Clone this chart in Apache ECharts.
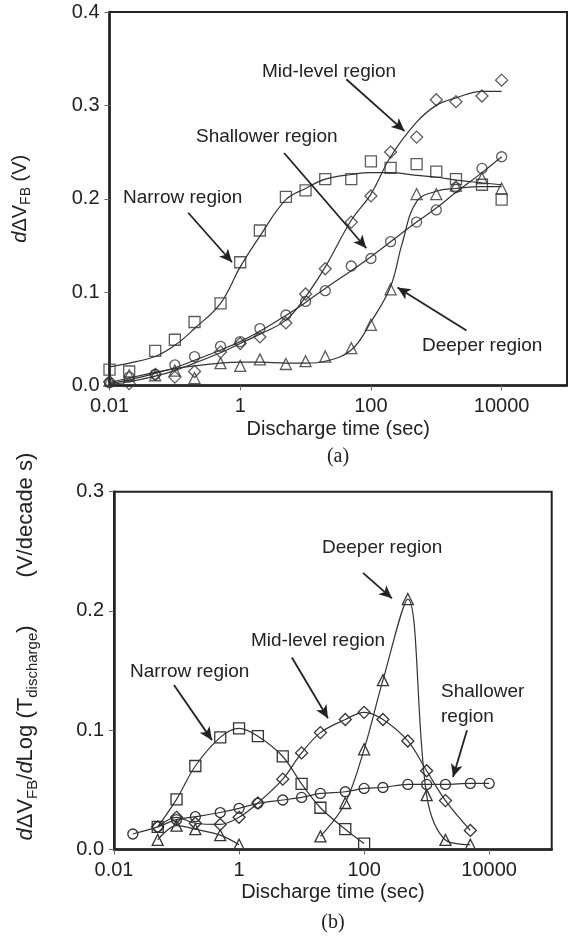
<!DOCTYPE html>
<html>
<head>
<meta charset="utf-8">
<script src="https://cdn.jsdelivr.net/npm/echarts@6/dist/echarts.min.js"></script>
<style>
    html, body { margin: 0; padding: 0; background: #fff; }
    #chart { width: 568px; height: 937px; }
</style>
</head>
<body>
<div id="chart"></div>
<script>
// (a) shift vs discharge time
var timeA = [0.01, 0.02, 0.05, 0.1, 0.2, 0.5, 1, 2, 5, 10, 20, 50, 100, 200, 500, 1000, 2000, 5000, 10000]
var narrowA = [0.017, 0.015, 0.037, 0.049, 0.068, 0.088, 0.132, 0.166, 0.202, 0.209, 0.221, 0.221, 0.240, 0.233, 0.237, 0.229, 0.221, 0.215, 0.199]
var midA = [0.004, 0.002, 0.012, 0.009, 0.015, 0.036, 0.045, 0.052, 0.067, 0.098, 0.125, 0.175, 0.203, 0.250, 0.266, 0.306, 0.304, 0.310, 0.327]
var shallowA = [0.003, 0.009, 0.012, 0.022, 0.031, 0.042, 0.047, 0.061, 0.0755, 0.090, 0.1015, 0.128, 0.136, 0.154, 0.175, 0.188, 0.212, 0.2325, 0.245]
var deepA = [0.005, 0.011, 0.011, 0.016, 0.008, 0.024, 0.021, 0.028, 0.023, 0.026, 0.031, 0.040, 0.065, 0.103, 0.205, 0.205, 0.214, 0.222, 0.211]

// (a) fitted curves
var narrowFitA = [0.020, 0.024, 0.031, 0.043, 0.061, 0.088, 0.127, 0.160, 0.199, 0.211, 0.221, 0.226, 0.228, 0.228, 0.225, 0.223, 0.220, 0.217, 0.215]
var midFitA = [0.001, 0.004, 0.010, 0.016, 0.024, 0.035, 0.045, 0.055, 0.070, 0.095, 0.127, 0.177, 0.205, 0.245, 0.282, 0.300, 0.308, 0.315, 0.315]
var shallowFitA = [0.002, 0.006, 0.013, 0.019, 0.027, 0.038, 0.047, 0.058, 0.075, 0.089, 0.104, 0.123, 0.138, 0.154, 0.175, 0.190, 0.207, 0.228, 0.245]
var deepFitTimeA = [0.01, 0.02, 0.05, 0.1, 0.2, 0.5, 1, 2, 5, 10, 20, 50, 100, 200, 300, 500, 1000, 2000, 5000, 10000]
var deepFitA = [0.003, 0.008, 0.014, 0.018, 0.021, 0.024, 0.025, 0.025, 0.024, 0.024, 0.026, 0.038, 0.068, 0.106, 0.152, 0.197, 0.208, 0.211, 0.213, 0.213]

// (b) derivative per decade
var narrowTimeB = [0.05, 0.1, 0.2, 0.5, 1, 2, 5, 10, 20, 50, 100]
var narrowB = [0.019, 0.042, 0.070, 0.094, 0.1015, 0.095, 0.078, 0.055, 0.035, 0.017, 0.005]
var shallowTimeB = [0.02, 0.05, 0.1, 0.2, 0.5, 1, 2, 5, 10, 20, 50, 100, 200, 500, 1000, 2000, 5000, 10000]
var shallowB = [0.013, 0.019, 0.025, 0.0275, 0.031, 0.0345, 0.0387, 0.0415, 0.0437, 0.047, 0.0484, 0.0512, 0.052, 0.0546, 0.0546, 0.0546, 0.0554, 0.0554]
var midTimeB = [0.05, 0.1, 0.2, 0.5, 1, 2, 5, 10, 20, 50, 100, 200, 500, 1000, 2000, 5000]
var midB = [0.019, 0.027, 0.022, 0.021, 0.027, 0.039, 0.059, 0.081, 0.098, 0.109, 0.115, 0.109, 0.091, 0.066, 0.041, 0.016]
var deepTimeB = [0.05, 0.1, 0.2, 0.5, 1, 5, 20, 50, 100, 200, 500, 1000, 2000, 5000]
var deepB = [0.008, 0.020, 0.017, 0.012, 0.004, '-', 0.011, 0.039, 0.084, 0.142, 0.210, 0.0456, 0.008, 0.004]

var xTicks = [0.01, 1, 100, 10000]

var FONT = '"Liberation Sans", Arial, sans-serif'
var INK = '#222'

function pairs (xs, ys) {
    return xs.map(function (x, i) { return [x, ys[i]] })
}

function makeX (idx, gap) {
    return {
        type: 'log',
        logBase: 10,
        gridIndex: idx,
        min: 0.01,
        max: 100000,
        axisLine: {show: true, onZero: false, lineStyle: {color: INK, width: 2.5}},
        axisTick: {show: true, length: 5, customValues: xTicks, lineStyle: {color: '#666', width: 1}},
        axisLabel: {
            customValues: xTicks,
            formatter: function (v) { return String(+(+v).toPrecision(6)) },
            color: INK, fontSize: 20, fontFamily: FONT, margin: 11
        },
        splitLine: {show: false},
        minorTick: {show: false},
        name: 'Discharge time (sec)',
        nameLocation: 'middle',
        nameGap: gap,
        nameTextStyle: {color: INK, fontSize: 20, fontFamily: FONT}
    }
}

function richSet (big, small, gapWidth) {
    return {
        i: {fontSize: big, fontFamily: FONT, fontStyle: 'italic', color: INK, lineHeight: big + 6},
        n: {fontSize: big, fontFamily: FONT, color: INK, lineHeight: big + 6},
        s: {fontSize: small, fontFamily: FONT, color: INK, lineHeight: small, verticalAlign: 'bottom'},
        gap: {width: gapWidth, fontSize: big, lineHeight: big + 6}
    }
}

function makeY (idx, max, name, gap, rich, pad) {
    return {
        type: 'value',
        gridIndex: idx,
        min: 0,
        max: max,
        interval: 0.1,
        axisLine: {show: true, lineStyle: {color: INK, width: 2.5}},
        axisTick: {show: true, length: 5, lineStyle: {color: '#666', width: 1}},
        axisLabel: {
            formatter: function (v) { return v.toFixed(1) },
            color: INK, fontSize: 20, fontFamily: FONT, margin: 10
        },
        splitLine: {show: false},
        name: name,
        nameLocation: 'middle',
        nameGap: gap,
        nameTextStyle: {rich: rich, padding: pad}
    }
}

var hollow = {color: 'rgba(0,0,0,0)', borderColor: '#333', borderWidth: 1.3}
var curve = {color: '#333', width: 1.2}

function dots (idx, xs, ys, symbol, size) {
    return {
        type: 'scatter', xAxisIndex: idx, yAxisIndex: idx,
        symbol: symbol, symbolSize: size,
        itemStyle: hollow,
        data: pairs(xs, ys),
        z: 3
    }
}

function fit (idx, xs, ys, arrows) {
    var s = {
        type: 'line', xAxisIndex: idx, yAxisIndex: idx,
        smooth: 0.4, showSymbol: false,
        lineStyle: curve, itemStyle: {color: '#333'},
        data: pairs(xs, ys),
        z: 2
    }
    if (arrows) {
        s.markLine = {
            silent: true,
            animation: false,
            symbol: ['none', 'arrow'],
            symbolSize: [9, 13],
            label: {show: false},
            lineStyle: {color: INK, width: 1.8, type: 'solid'},
            data: arrows.map(function (a) { return [{coord: a[0]}, {coord: a[1]}] })
        }
    }
    return s
}

function linked (idx, xs, ys, symbol, size, arrows) {
    var s = fit(idx, xs, ys, arrows)
    s.showSymbol = true
    s.symbol = symbol
    s.symbolSize = size
    s.itemStyle = hollow
    s.connectNulls = false
    s.smooth = 0.35
    return s
}

// annotation arrows in data coordinates
var arrowsA = [
    [[42, 0.328], [326, 0.2725]],
    [[4.7, 0.249], [85, 0.147]],
    [[0.16, 0.185], [0.75, 0.132]],
    [[2900, 0.059], [255, 0.105]]
]
var arrowsB = [
    [[96, 0.232], [279, 0.2106]],
    [[7, 0.161], [26.4, 0.110]],
    [[0.091, 0.138], [0.369, 0.0917]],
    [[4420, 0.100], [2640, 0.0607]]
]

function note (x, y, text) {
    return {
        type: 'text', x: x, y: y, silent: true,
        style: {text: text, fill: INK, fontSize: 19, fontFamily: FONT, verticalAlign: 'middle'}
    }
}

var myChart = echarts.init(document.getElementById('chart'))
myChart.setOption({
    animation: false,
    grid: [
        {left: 109.5, top: 12, width: 457.5, height: 373.5, show: true, borderColor: INK, borderWidth: 2},
        {left: 114, top: 491.7, width: 437.7, height: 357.8, show: true, borderColor: INK, borderWidth: 2}
    ],
    xAxis: [makeX(0, 34), makeX(1, 33)],
    yAxis: [
        makeY(0, 0.4, '{i|d}{n|ΔV}{s|FB}{n| (V)}', 76, richSet(20, 14, 0), 0),
        makeY(1, 0.3, '{i|d}{n|ΔV}{s|FB}{n|/}{i|d}{n|Log (T}{s|discharge}{n|)}{gap|}{n|(V/decade s)}', 74,
            richSet(22, 15, 48), [0, 0, 0, 48])
    ],
    series: [
        fit(0, timeA, narrowFitA, arrowsA),
        fit(0, timeA, midFitA),
        fit(0, timeA, shallowFitA),
        fit(0, deepFitTimeA, deepFitA),
        dots(0, timeA, narrowA, 'rect', 11),
        dots(0, timeA, midA, 'diamond', 12),
        dots(0, timeA, shallowA, 'circle', 10),
        dots(0, timeA, deepA, 'triangle', 11),
        linked(1, narrowTimeB, narrowB, 'rect', 11, arrowsB),
        linked(1, midTimeB, midB, 'diamond', 12),
        linked(1, shallowTimeB, shallowB, 'circle', 10),
        linked(1, deepTimeB, deepB, 'triangle', 11)
    ],
    graphic: [
        note(262, 72, 'Mid-level region'),
        note(196, 137, 'Shallower region'),
        note(123, 198, 'Narrow region'),
        note(422, 346, 'Deeper region'),
        note(322, 548, 'Deeper region'),
        note(251, 641, 'Mid-level region'),
        note(130, 672, 'Narrow region'),
        note(441, 692, 'Shallower'),
        note(441, 717, 'region'),
        {type: 'text', x: 338, y: 457, silent: true,
            style: {text: '(a)', fill: INK, fontSize: 20, fontFamily: '"Liberation Serif", serif', align: 'center', verticalAlign: 'middle'}},
        {type: 'text', x: 333, y: 923, silent: true,
            style: {text: '(b)', fill: INK, fontSize: 20, fontFamily: '"Liberation Serif", serif', align: 'center', verticalAlign: 'middle'}}
    ]
})
</script>
</body>
</html>
